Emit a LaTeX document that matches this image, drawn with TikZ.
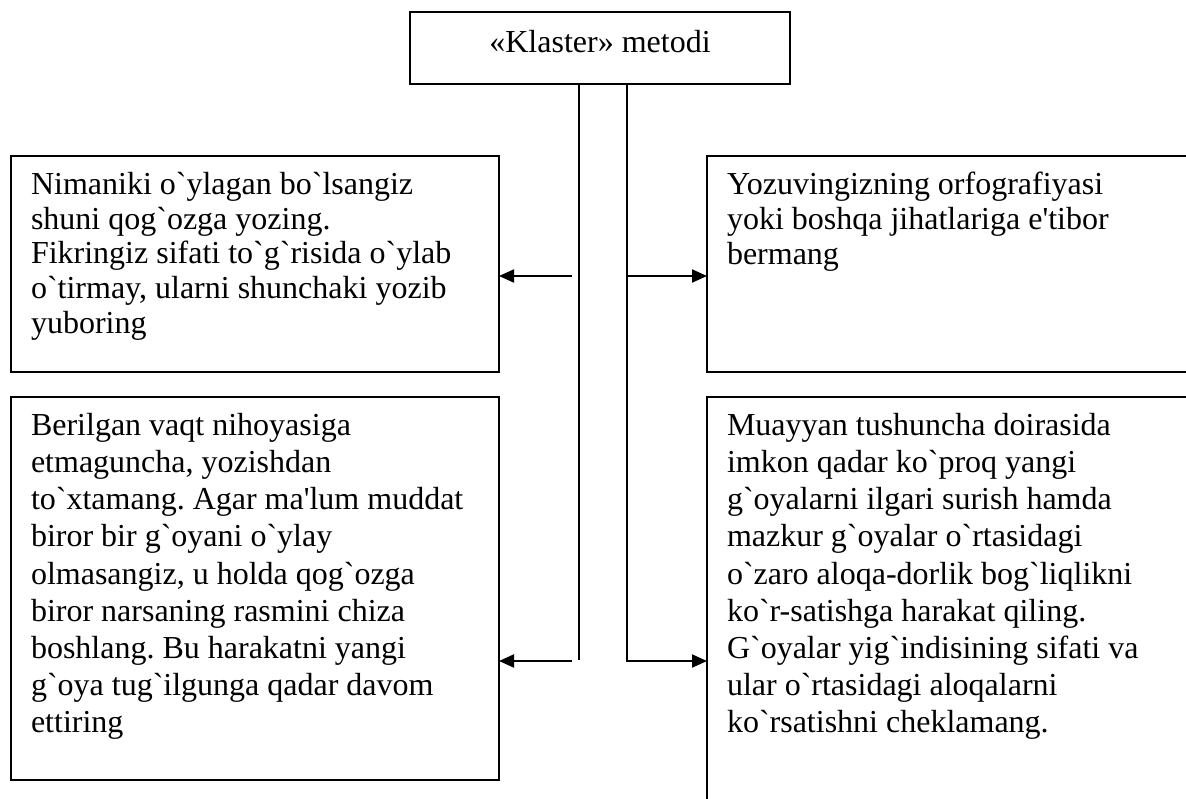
\documentclass[tikz,border=0pt]{standalone}
\usepackage{fontspec}
\setmainfont{Liberation Serif}[Ligatures=TeXOff]
\usetikzlibrary{positioning, arrows.meta}
\frenchspacing

\begin{document}
\begin{tikzpicture}[x=0.5pt,y=-0.5pt,->,>={Triangle[length=7.5pt,width=6.5pt]},line width=1pt,
    every node/.style={font=\fontsize{16}{18.6}\selectfont},
    box/.style={draw,anchor=north west,inner xsep=10pt,inner ysep=8pt,outer sep=0pt},
    tight/.style={font=\fontsize{16}{17.4}\selectfont},
    head/.style={draw,minimum width=190pt,minimum height=36pt,text height=10.8pt,text depth=6.8pt,outer sep=0pt}]
    \useasboundingbox (0,0) rectangle (1186,798);

    \node[head] (top) at (600,48) {«Klaster» metodi};

    \node[box,tight] (lt) at (11,156) {\parbox[t][92pt][t]{224pt}{Nimaniki o`ylagan bo`lsangiz\\ shuni qog`ozga yozing.\\ Fikringiz sifati to`g`risida o`ylab\\ o`tirmay, ularni shunchaki yozib\\ yuboring}};
    \node[box] (lb) at (11,397) {\parbox[t][175.5pt][t]{224pt}{Berilgan vaqt nihoyasiga\\ etmaguncha, yozishdan\\ to`xtamang. Agar ma'lum muddat\\ biror bir g`oyani o`ylay\\ olmasangiz, u holda qog`ozga\\ biror narsaning rasmini chiza\\ boshlang. Bu harakatni yangi\\ g`oya tug`ilgunga qadar davom\\ ettiring}};
    \node[box,tight] (rt) at (707,156) {\parbox[t][92pt][t]{224pt}{Yozuvingizning orfografiyasi\\ yoki boshqa jihatlariga e'tibor\\ bermang}};
    \node[box] (rb) at (707,397) {\parbox[t][199pt][t]{224pt}{Muayyan tushuncha doirasida\\ imkon qadar ko`proq yangi\\ g`oyalarni ilgari surish hamda\\ mazkur g`oyalar o`rtasidagi\\ o`zaro aloqa-dorlik bog`liqlikni\\ ko`r-satishga harakat qiling.\\ G`oyalar yig`indisining sifati va\\ ular o`rtasidagi aloqalarni\\ ko`rsatishni cheklamang.}};

    \coordinate (vl) at (579,660);
    \coordinate (vr) at (627,661);
    \coordinate (al1) at (572,276);
    \coordinate (al2) at (572,661);
    \coordinate (ar1) at (627,276);

    \draw[-] (vl |- top.south) -- (vl);
    \draw (vr |- top.south) -- (vr) -- (vr -| rb.west);
    \draw (al1) -- (al1 -| lt.east);
    \draw (al2) -- (al2 -| lb.east);
    \draw (ar1) -- (ar1 -| rt.west);
\end{tikzpicture}
\end{document}
